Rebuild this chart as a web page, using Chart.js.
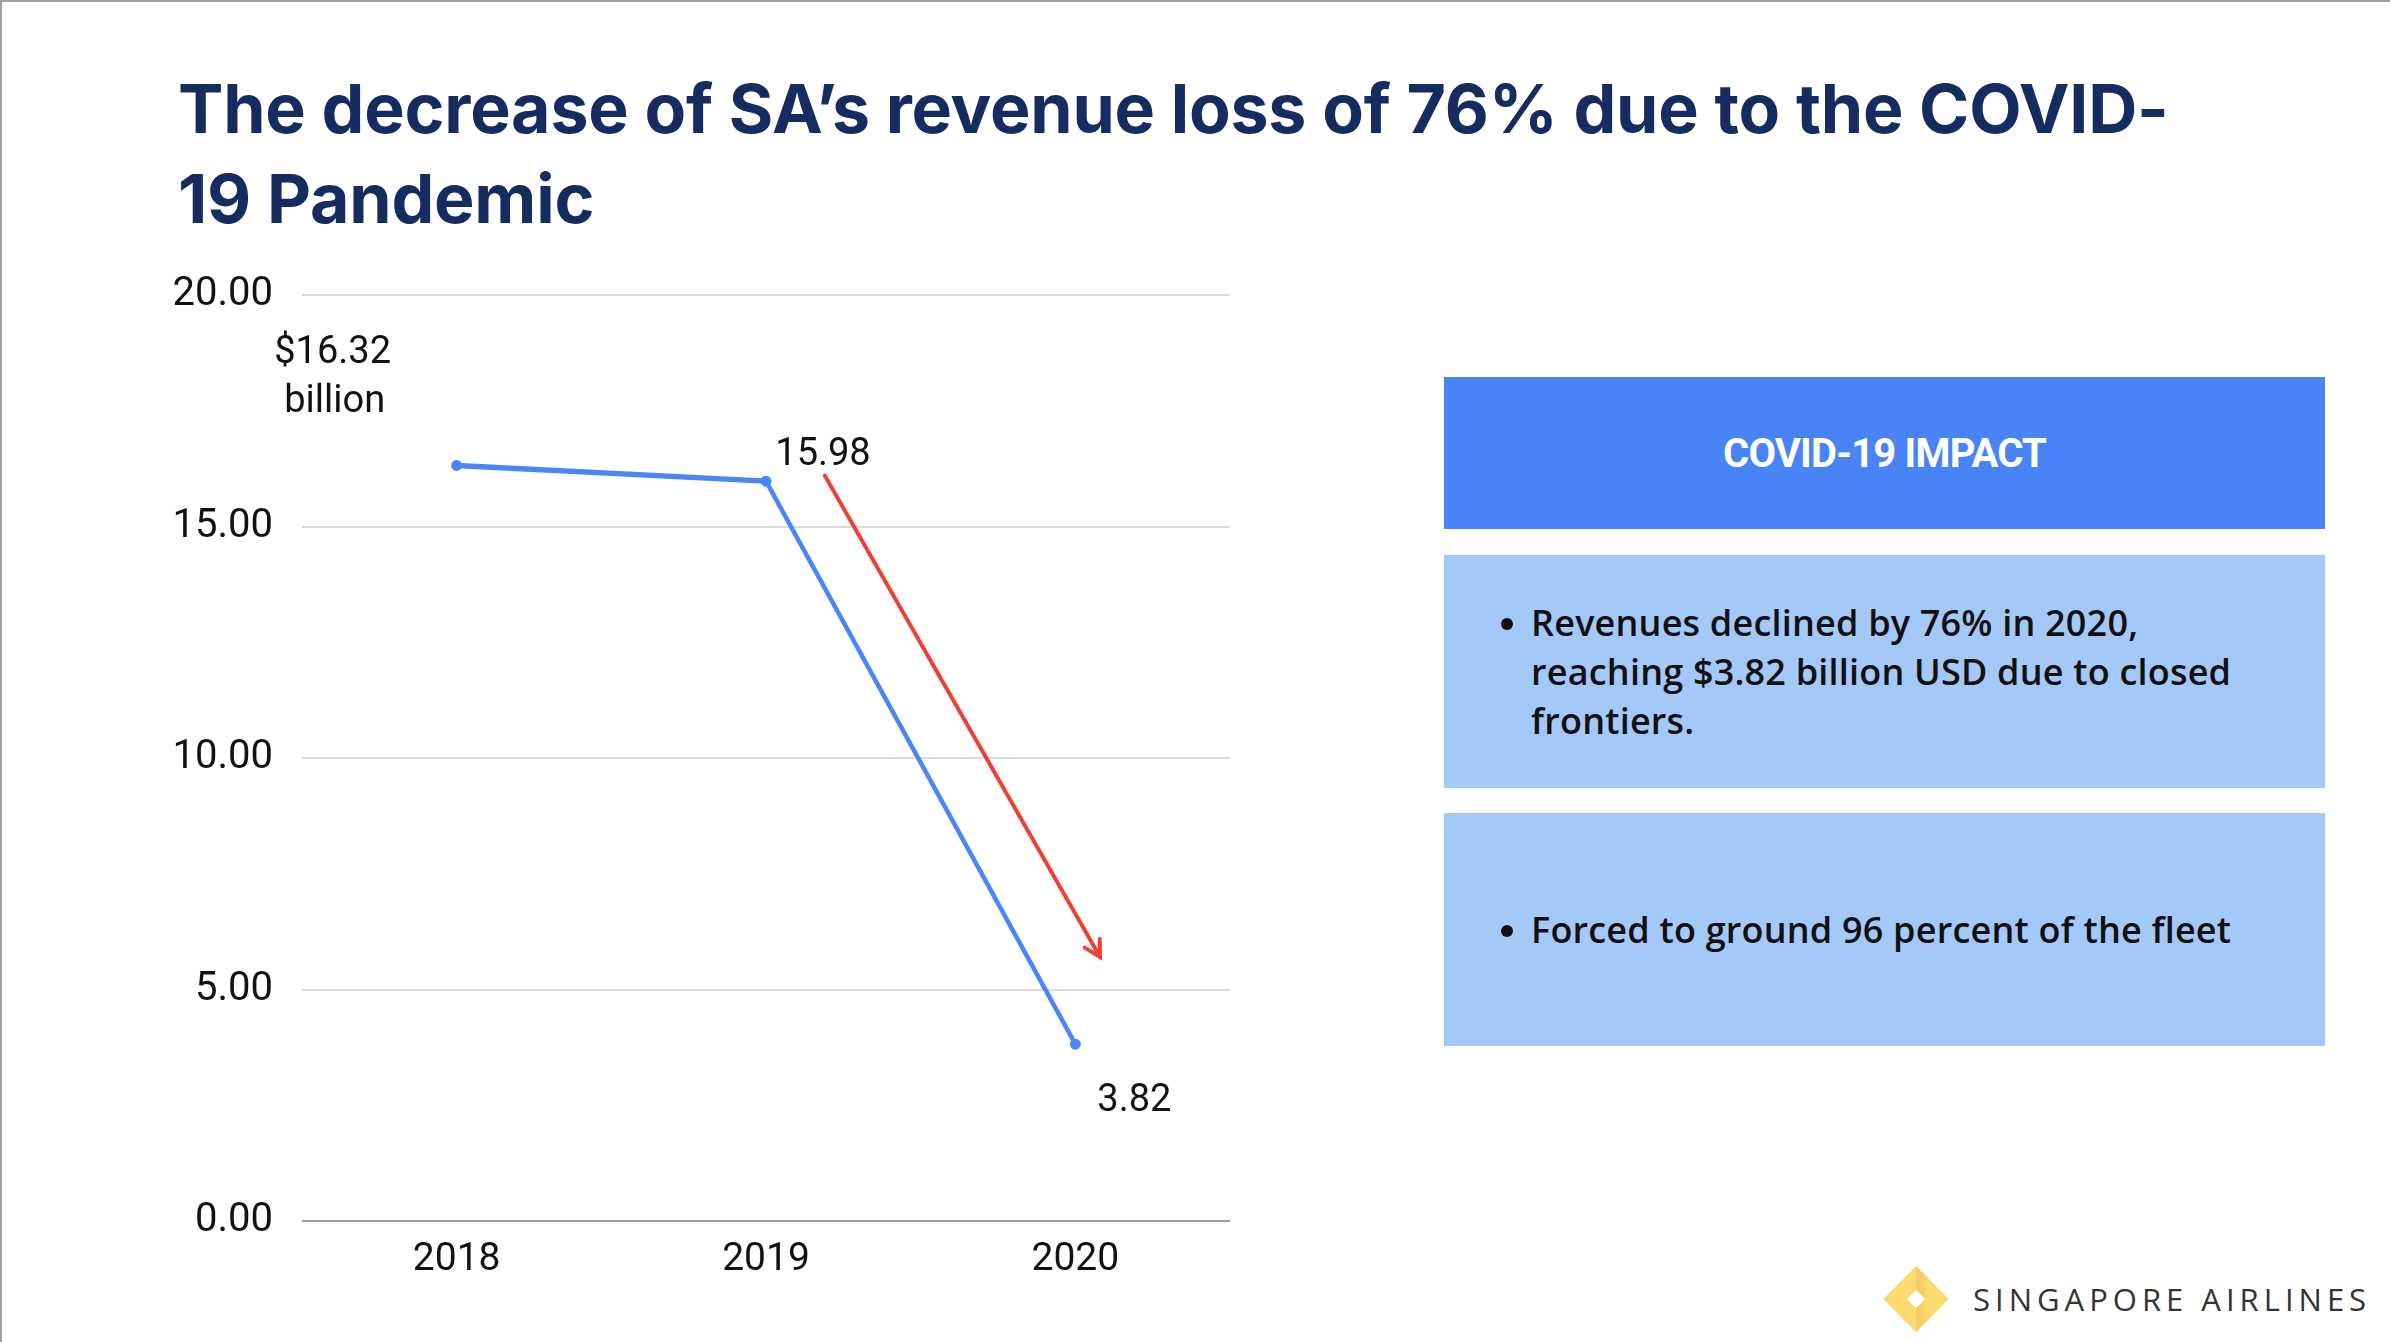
<!DOCTYPE html>
<html>
<head>
<meta charset="utf-8">
<script src="https://cdn.jsdelivr.net/npm/chart.js@4.4.0/dist/chart.umd.min.js"></script>
<style>
  html, body { margin: 0; padding: 0; background: #fff; }
  body { width: 2390px; height: 1342px; position: relative; overflow: hidden;
         border-top: 2px solid #a0a0a0; border-left: 2px solid #a0a0a0; box-sizing: border-box; }
  .title { position: absolute; left: 176px; top: 61px; width: 2200px;
           font-family: Inter, sans-serif; font-weight: 700; font-size: 68px; line-height: 90px;
           color: #162c60; letter-spacing: -0.2px; }
  .chart-wrap { position: absolute; left: 140px; top: 240px; width: 1100px; height: 1059px; }
  .box { position: absolute; left: 1442px; width: 881px; box-sizing: border-box; }
  .head { top: 375px; height: 152px; background: #4884f6; color: #fff;
          font-family: Roboto, sans-serif; font-weight: 700; font-size: 40px; letter-spacing: -0.8px;
          display: flex; align-items: center; justify-content: center; }
  .item { background: #a4c8f8; font-family: "Open Sans", sans-serif; font-weight: 600;
          font-size: 36px; line-height: 49px; color: #111; padding-left: 87px; padding-right: 10px;
          display: flex; align-items: center; letter-spacing: 0.2px; }
  .item ul { margin: 0; padding: 0; list-style: none; }
  .item li { position: relative; white-space: nowrap; }
  .item li::before { content: ""; position: absolute; left: -30px; top: 20px; width: 12px; height: 12px;
                     border-radius: 50%; background: #111; }
  .b1 { top: 553px; height: 233px; }
  .b2 { top: 811px; height: 233px; }
  .logo { position: absolute; left: 1880px; top: 1262px; width: 500px; height: 70px; }
  .logo span { position: absolute; left: 91px; top: 14px; font-family: "Open Sans", sans-serif;
               font-size: 31px; letter-spacing: 5px; color: #333; white-space: nowrap; }
</style>
</head>
<body>
<div class="title">The decrease of SA’s revenue loss of 76% due to the COVID-<br>19 Pandemic</div>
<div class="chart-wrap"><canvas id="revChart"></canvas></div>

<div class="box head">COVID-19 IMPACT</div>
<div class="box item b1"><ul><li>Revenues declined by 76% in 2020,<br>reaching $3.82 billion USD due to closed<br>frontiers.</li></ul></div>
<div class="box item b2"><ul><li>Forced to ground 96 percent of the fleet</li></ul></div>

<div class="logo">
  <svg width="80" height="70" viewBox="0 0 80 70" style="position:absolute;left:0;top:0">
    <defs>
      <linearGradient id="g1" x1="0" y1="0" x2="1" y2="0">
        <stop offset="0" stop-color="#f3c25e"/>
        <stop offset="1" stop-color="#fbdc72"/>
      </linearGradient>
    </defs>
    <polygon points="34,2 67,35 34,68 1,35" fill="#fbdb6f"/>
    <path d="M34,2 L50,18 Q41,26 43,35 L34,26 Z" fill="url(#g1)" opacity="0.8"/>
    <path d="M34,68 L50,52 Q41,44 43,35 L34,44 Z" fill="url(#g1)" opacity="0.8"/>
    <polygon points="34,26 43,35 34,44 25,35" fill="#fff"/>
  </svg>
  <span>SINGAPORE AIRLINES</span>
</div>

<script>
// data
const years = ['2018', '2019', '2020'];
const revenue = [16.32, 15.98, 3.82];
const yTicks = [0, 5, 10, 15, 20];
const pointLabels = [['$16.32', 'billion'], ['15.98'], ['3.82']];
// red arrow, in (category index, value)
const arrowFrom = [1.19, 16.1];
const arrowTo = [2.08, 5.7];

const labelPlugin = {
    id: 'pointText',
    afterDatasetsDraw(chart) {
        const ctx = chart.ctx;
        const xs = chart.scales.x, ys = chart.scales.y;
        const offs = [[-124, -112], [57, -26], [59, 57]];
        ctx.save();
        ctx.font = '38px Roboto';
        ctx.fillStyle = '#111';
        ctx.textAlign = 'center';
        ctx.textBaseline = 'middle';
        revenue.forEach(function(v, i) {
            const px = xs.getPixelForValue(i);
            const py = ys.getPixelForValue(v);
            pointLabels[i].forEach(function(t, k) {
                ctx.fillText(t, px + offs[i][0] + (k ? 2 : 0), py + offs[i][1] + k * 49);
            });
        });

        // arrow
        const x1 = xs.getPixelForValue(arrowFrom[0]), y1 = ys.getPixelForValue(arrowFrom[1]);
        const x2 = xs.getPixelForValue(arrowTo[0]), y2 = ys.getPixelForValue(arrowTo[1]);
        const ang = Math.atan2(y2 - y1, x2 - x1);
        ctx.strokeStyle = '#ea4335';
        ctx.lineWidth = 4;
        ctx.lineCap = 'round';
        ctx.beginPath();
        ctx.moveTo(x1, y1);
        ctx.lineTo(x2, y2);
        ctx.moveTo(x2 - 18 * Math.cos(ang - 0.5), y2 - 18 * Math.sin(ang - 0.5));
        ctx.lineTo(x2, y2);
        ctx.lineTo(x2 - 18 * Math.cos(ang + 0.5), y2 - 18 * Math.sin(ang + 0.5));
        ctx.stroke();
        ctx.restore();
    }
};

new Chart(document.getElementById('revChart'), {
    type: 'line',
    data: {
        labels: years,
        datasets: [{
            data: revenue,
            borderColor: '#4a86f5',
            backgroundColor: '#4a86f5',
            pointBackgroundColor: '#4a86f5',
            pointBorderWidth: 0,
            pointRadius: 5.5,
            borderWidth: 4.5,
            tension: 0,
            fill: false,
            segment: {
                borderWidth: ctx => ctx.p0DataIndex === 0 ? 5.5 : 4.5
            }
        }]
    },
    options: {
        responsive: true,
        maintainAspectRatio: false,
        animation: false,
        layout: { padding: { top: 51, right: 12, bottom: 0, left: 0 } },
        plugins: { legend: { display: false }, tooltip: { enabled: false } },
        scales: {
            y: {
                min: 0,
                max: 20,
                afterBuildTicks: axis => { axis.ticks = yTicks.map(v => ({ value: v })); },
                afterFit: axis => { axis.width = 160; },
                border: { display: false },
                grid: {
                    drawTicks: false,
                    lineWidth: 2,
                    color: c => c.tick && c.tick.value === 0 ? '#9e9e9e' : '#dadada'
                },
                ticks: {
                    padding: 29,
                    color: '#111',
                    font: { family: 'Roboto', size: 40 },
                    callback: v => Number(v).toFixed(2)
                }
            },
            x: {
                offset: true,
                afterFit: axis => { axis.height = 80; },
                border: { display: false },
                grid: { display: false, drawTicks: false },
                ticks: {
                    padding: 16,
                    color: '#111',
                    font: { family: 'Roboto', size: 39 }
                }
            }
        }
    },
    plugins: [labelPlugin]
});
</script>
</body>
</html>
